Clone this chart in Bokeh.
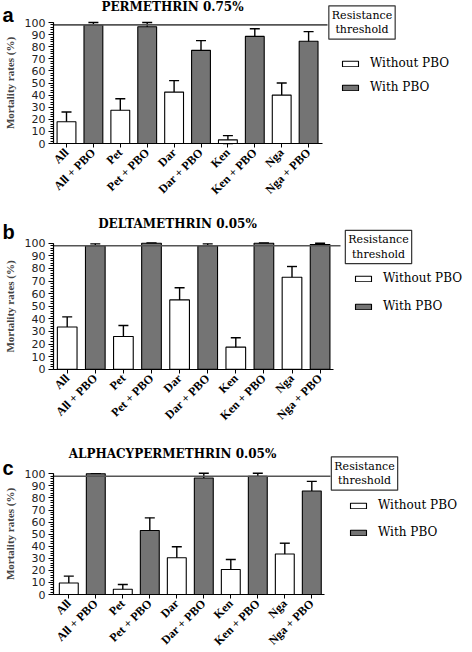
import math
from bokeh.plotting import figure
from bokeh.models import (ColumnDataSource, Range1d, FixedTicker, SingleIntervalTicker,
                          Label, Whisker, TeeHead, Legend, LegendItem)
from bokeh.layouts import column
from bokeh.embed import file_html
from bokeh.resources import INLINE

# ---------------- data ----------------
categories = ["All", "All + PBO", "Pet", "Pet + PBO", "Dar", "Dar + PBO",
              "Ken", "Ken + PBO", "Nga", "Nga + PBO"]
with_pbo = [False, True, False, True, False, True, False, True, False, True]

titles = ["PERMETHRIN 0.75%", "DELTAMETHRIN 0.05%", "ALPHACYPERMETHRIN 0.05%"]
panel_letters = ["a", "b", "c"]

permethrin_mean = [18, 98, 27.5, 96.5, 42.5, 77, 3, 88.5, 40, 84.5]
permethrin_err = [8, 2, 9.5, 3.5, 9.5, 8, 3.5, 6.3, 10, 8]
deltamethrin_mean = [33.5, 98, 26, 100, 55, 98, 17.5, 100, 73, 99]
deltamethrin_err = [8, 1.5, 8.7, 0, 9.7, 1.5, 7.5, 0, 8.5, 1]
alphacypermethrin_mean = [9.5, 100, 4.3, 53, 30.5, 96.5, 20.7, 98, 33.5, 85.7]
alphacypermethrin_err = [5.7, 0, 4, 10.5, 9, 4, 8.3, 2.5, 9, 8]

threshold = 98
threshold_label = "Resistance\nthreshold"
legend_labels = ["Without PBO", "With PBO"]
y_label = "Mortality rates (%)"

means = [permethrin_mean, deltamethrin_mean, alphacypermethrin_mean]
errs = [permethrin_err, deltamethrin_err, alphacypermethrin_err]

# ---------------- layout (reference pixel geometry) ----------------
W = 472
AX_X0 = 53          # y-axis position (px)
LAYOUT = [
    dict(fig_h=212, dy=0, y100=22, y0=143, c0=66, sp=26.9, ax_end=322,
         box=(327, 396, 8, 36), leg=(340, 63, 87), title=(172, 6), letter=14),
    dict(fig_h=224, dy=212, y100=242.7, y0=368.7, c0=66.7, sp=28.1, ax_end=333,
         box=(340, 416, 228, 265), leg=(353, 278, 306), title=(177, 223.5), letter=231),
    dict(fig_h=216, dy=436, y100=473.3, y0=594, c0=68.3, sp=27.0, ax_end=324,
         box=(330, 398, 459, 487), leg=(348, 505, 532), title=(172, 453), letter=467),
]

HATCH = dict(fill_color="#747474", line_color="black", line_width=1.1)
PLAIN = dict(fill_color="white", line_color="black", line_width=1.1)


def make_panel(k):
    L = LAYOUT[k]
    c0, sp, y0, y100, dy, fh = L["c0"], L["sp"], L["y0"], L["y100"], L["dy"], L["fig_h"]
    h100 = y0 - y100

    def px_x(rx):
        return (rx - c0) / sp

    def px_y(ry):
        return (y0 - ry) / h100 * 100.0

    x_rng = Range1d(px_x(0), px_x(W))
    y_rng = Range1d(px_y(dy + fh), px_y(dy))

    p = figure(width=W, height=fh, x_range=x_rng, y_range=y_rng,
               output_backend="svg", toolbar_location=None, min_border=0)
    p.min_border_left = 0
    p.min_border_right = 0
    p.min_border_top = 0
    p.min_border_bottom = 0
    p.outline_line_color = None
    p.grid.visible = False
    p.background_fill_color = "white"
    p.border_fill_color = "white"

    m = means[k]
    e = errs[k]
    xs = list(range(len(categories)))
    src_no = ColumnDataSource(dict(x=[x for x, w in zip(xs, with_pbo) if not w],
                                   top=[v for v, w in zip(m, with_pbo) if not w]))
    src_yes = ColumnDataSource(dict(x=[x for x, w in zip(xs, with_pbo) if w],
                                    top=[v for v, w in zip(m, with_pbo) if w]))
    r_no = p.vbar(x="x", top="top", width=0.7, source=src_no, **PLAIN)
    r_yes = p.vbar(x="x", top="top", width=0.7, source=src_yes, **HATCH)

    err_src = ColumnDataSource(dict(x=xs, upper=[a + b for a, b in zip(m, e)],
                                    lower=[max(0, a - b) for a, b in zip(m, e)]))
    wh = Whisker(source=err_src, base="x", upper="upper", lower="lower",
                 line_color="black", line_width=1.4,
                 upper_head=TeeHead(size=10, line_color="black", line_width=1.4),
                 lower_head=TeeHead(size=10, line_color="black", line_width=1.4))
    p.add_layout(wh)

    # resistance threshold line (from y axis to the label box)
    bx0, bx1, by0, by1 = L["box"]
    p.segment(x0=[px_x(AX_X0)], x1=[px_x(bx0)], y0=[threshold], y1=[threshold],
              line_color="#555555", line_width=1.6)

    # x axis
    xa = p.xaxis[0]
    xa.fixed_location = 0
    xa.ticker = FixedTicker(ticks=xs)
    xa.major_label_overrides = {i: c for i, c in enumerate(categories)}
    xa.major_label_orientation = math.pi / 4
    xa.bounds = (px_x(AX_X0), px_x(L["ax_end"]))
    xa.major_tick_out = 4
    xa.major_tick_in = 0
    xa.minor_tick_out = 0
    xa.axis_line_color = "black"
    xa.axis_line_width = 1.2
    xa.major_tick_line_color = "black"
    xa.major_label_text_font = "Liberation Serif"
    xa.major_label_text_font_style = "bold"
    xa.major_label_text_font_size = "12px"
    xa.major_label_text_color = "black"
    xa.major_label_standoff = 3

    # y axis
    ya = p.yaxis[0]
    ya.fixed_location = px_x(AX_X0)
    ya.ticker = SingleIntervalTicker(interval=10, num_minor_ticks=5)
    ya.bounds = (0, 100)
    ya.major_tick_out = 5
    ya.major_tick_in = 0
    ya.minor_tick_out = 3
    ya.minor_tick_in = 0
    ya.axis_line_color = "black"
    ya.axis_line_width = 1.2
    ya.major_tick_line_color = "black"
    ya.minor_tick_line_color = "black"
    ya.major_label_text_font = "DejaVu Sans"
    ya.major_label_text_font_size = "11px"
    ya.major_label_text_color = "#222222"
    ya.major_label_standoff = 3
    ya.axis_label = y_label
    ya.axis_label_text_font = "Liberation Serif"
    ya.axis_label_text_font_style = "bold"
    ya.axis_label_text_font_size = "11px"
    ya.axis_label_standoff = 6

    # title, panel letter
    tx, ty = L["title"]
    p.add_layout(Label(x=px_x(tx), y=px_y(ty), text=titles[k], text_align="center",
                       text_baseline="middle", text_font="DejaVu Serif",
                       text_font_style="bold", text_font_size="12px", text_color="black"))
    p.add_layout(Label(x=px_x(2), y=px_y(L["letter"]), text=panel_letters[k],
                       text_align="left", text_baseline="middle", text_font="Liberation Sans",
                       text_font_style="bold", text_font_size="20px", text_color="black"))

    # resistance threshold box
    p.add_layout(Label(x=px_x((bx0 + bx1) / 2), y=px_y((by0 + by1) / 2), text=threshold_label,
                       text_align="center", text_baseline="middle", text_font="DejaVu Serif",
                       text_font_size="11px", text_color="black", text_line_height=1.1,
                       border_line_color="#333333", border_line_width=1.2,
                       background_fill_color="white", padding=3))

    # legend
    gx, r1, r2 = L["leg"]
    row_h = 14
    legend = Legend(items=[LegendItem(label=legend_labels[0], renderers=[r_no]),
                           LegendItem(label=legend_labels[1], renderers=[r_yes])],
                    location=(gx, fh - (r2 + row_h / 2 - dy)),
                    orientation="vertical", glyph_width=20, glyph_height=7,
                    label_height=row_h, label_standoff=10, spacing=(r2 - r1) - row_h,
                    padding=0, margin=0, border_line_color=None,
                    background_fill_alpha=0, label_text_font="DejaVu Serif",
                    label_text_font_size="12px", label_text_color="black")
    p.add_layout(legend)
    return p


panels = [make_panel(k) for k in range(3)]
layout = column(*panels, spacing=0)
open("out.html", "w").write(file_html(layout, INLINE))
